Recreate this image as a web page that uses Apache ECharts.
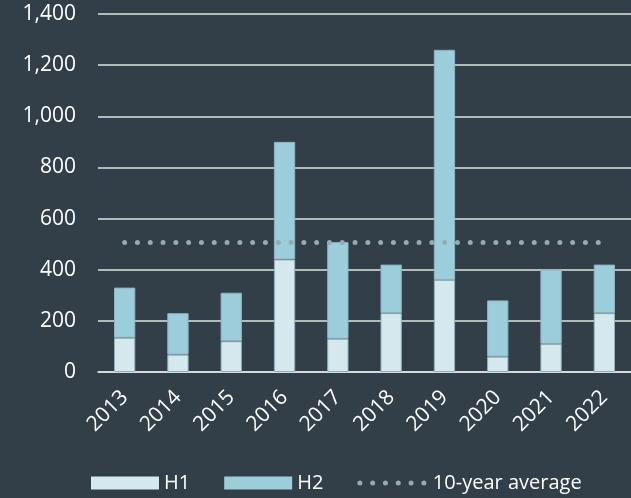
<!DOCTYPE html>
<html>
<head>
<meta charset="utf-8">
<script src="https://cdn.jsdelivr.net/npm/echarts@6/dist/echarts.min.js"></script>
<style>
  html, body { margin: 0; padding: 0; background: #323e48; }
  #chart { width: 631px; height: 498px; }
</style>
</head>
<body>
<div id="chart"></div>
<script>
const years = ['2013', '2014', '2015', '2016', '2017', '2018', '2019', '2020', '2021', '2022'];
const h1 = [134, 68, 120, 440, 130, 230, 360, 60, 110, 230];
const h2 = [196, 162, 190, 460, 378, 190, 900, 220, 290, 190];
const tenYearAverage = [506, 506, 506, 506, 506, 506, 506, 506, 506, 506];

const textFont = '"Open Sans", "Noto Sans", sans-serif';
const barBorder = { borderColor: '#8fb2bc', borderWidth: 1 };
const dotStyle = { color: '#95abb2', width: 5, type: [0, 12.8], cap: 'round' };

const chart = echarts.init(document.getElementById('chart'));

chart.setOption({
    backgroundColor: '#323e48',
    animation: false,
    textStyle: { fontFamily: textFont },
    grid: { left: 98, right: 0, top: 14, bottom: 126 },
    legend: {
        bottom: 0,
        left: 86,
        itemWidth: 68,
        itemHeight: 13,
        itemGap: 34,
        itemStyle: { borderWidth: 0 },
        textStyle: { color: '#ffffff', fontSize: 20, fontFamily: textFont },
        data: [
            { name: 'H1', icon: 'rect' },
            { name: 'H2', icon: 'rect' },
            { name: '10-year average', itemStyle: { opacity: 0 }, lineStyle: dotStyle }
        ]
    },
    xAxis: {
        type: 'category',
        data: years,
        axisLine: { show: true, lineStyle: { color: '#dfe6df', width: 1.5 } },
        axisTick: { show: false },
        axisLabel: {
            color: '#ffffff',
            fontSize: 21,
            rotate: 45,
            margin: 22,
            fontFamily: textFont
        }
    },
    yAxis: {
        type: 'value',
        min: 0,
        max: 1400,
        interval: 200,
        axisLine: { show: false },
        axisTick: { show: false },
        splitLine: { lineStyle: { color: '#dfe6df', width: 1.5 } },
        axisLabel: {
            color: '#ffffff',
            fontSize: 21,
            margin: 22,
            fontFamily: textFont,
            formatter: v => v.toLocaleString('en-US')
        }
    },
    series: [
        {
            name: 'H1',
            type: 'bar',
            stack: 'total',
            barWidth: '40%',
            data: h1,
            itemStyle: Object.assign({ color: '#d5e8ee' }, barBorder)
        },
        {
            name: 'H2',
            type: 'bar',
            stack: 'total',
            barWidth: '40%',
            data: h2,
            itemStyle: Object.assign({ color: '#9bcddb' }, barBorder)
        },
        {
            name: '10-year average',
            type: 'line',
            data: tenYearAverage,
            symbol: 'none',
            z: 5,
            itemStyle: { color: '#95abb2' },
            lineStyle: dotStyle
        }
    ]
});
</script>
</body>
</html>
